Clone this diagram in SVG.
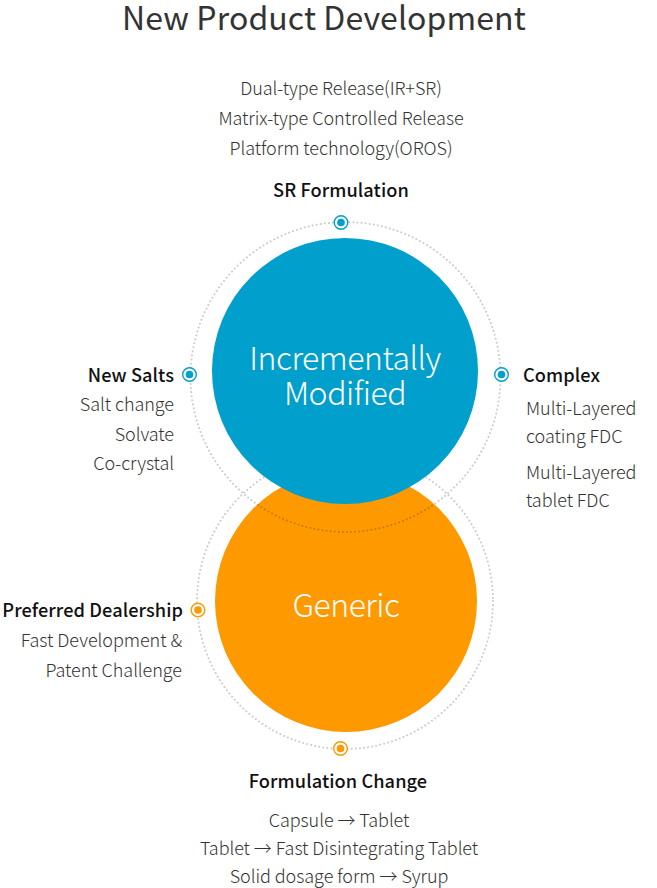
<svg xmlns="http://www.w3.org/2000/svg" width="657" height="888" viewBox="0 0 657 888">
<style>
text{font-family:"Noto Sans CJK KR","Noto Sans",sans-serif;}
.t{font-size:32px;fill:#333;text-anchor:middle;letter-spacing:0.1px;}
.b{font-size:18px;font-weight:300;fill:#333;letter-spacing:-0.05px;}
.h{font-size:18.2px;font-weight:500;fill:#111;letter-spacing:0.08px;}
.c{text-anchor:middle;}
.r{text-anchor:end;}
.big{font-size:32px;font-weight:300;fill:#fff;text-anchor:middle;letter-spacing:-0.5px;}
.dot{fill:none;stroke:#000;stroke-opacity:0.2;stroke-width:2;stroke-dasharray:0.1 4;stroke-linecap:round;}
.mb circle.o{fill:#fff;stroke:#019fcc;stroke-width:1.4;}
.mb circle.i{fill:#019fcc;}
.mo circle.o{fill:#fff;stroke:#fe9900;stroke-width:1.4;}
.mo circle.i{fill:#fe9900;}
</style>
<text class="t" x="324" y="30">New Product Development</text>
<g id="generic">
<circle cx="346" cy="601" r="131" fill="#fe9900"/>
<text class="big" x="346" y="617">Generic</text>
</g>
<g id="connectors">
<circle class="dot" cx="345.5" cy="377" r="155"/>
<circle class="dot" cx="345" cy="601" r="148"/>
</g>
<g id="incrementally">
<circle cx="345" cy="371" r="133" fill="#019fcc"/>
<text class="big" x="345" y="370">Incrementally</text>
<text class="big" x="345" y="405">Modified</text>
</g>
<g id="sr">
<g class="mb"><circle class="o" cx="341" cy="222.5" r="6.8"/><circle class="i" cx="341" cy="222.5" r="3.8"/></g>
<text class="b c" x="341" y="95">Dual-type Release(IR+SR)</text>
<text class="b c" x="341" y="125">Matrix-type Controlled Release</text>
<text class="b c" x="341" y="155">Platform technology(OROS)</text>
<text class="h c" x="341" y="197">SR Formulation</text>
</g>
<g id="newsalts">
<g class="mb"><circle class="o" cx="189.5" cy="374.5" r="6.8"/><circle class="i" cx="189.5" cy="374.5" r="3.8"/></g>
<text class="h r" x="174" y="382">New Salts</text>
<text class="b r" x="174" y="411">Salt change</text>
<text class="b r" x="174" y="441">Solvate</text>
<text class="b r" x="174" y="470">Co-crystal</text>
</g>
<g id="complex">
<g class="mb"><circle class="o" cx="501.5" cy="374.5" r="6.8"/><circle class="i" cx="501.5" cy="374.5" r="3.8"/></g>
<text class="h" x="523" y="382">Complex</text>
<text class="b" x="526" y="415">Multi-Layered</text>
<text class="b" x="526" y="443">coating FDC</text>
<text class="b" x="526" y="479">Multi-Layered</text>
<text class="b" x="526" y="507">tablet FDC</text>
</g>
<g id="preferred">
<g class="mo"><circle class="o" cx="198" cy="610" r="6.8"/><circle class="i" cx="198" cy="610" r="3.8"/></g>
<text class="h r" x="183" y="617">Preferred Dealership</text>
<text class="b r" x="182" y="647">Fast Development &amp;</text>
<text class="b r" x="182" y="677">Patent Challenge</text>
</g>
<g id="formulation">
<g class="mo"><circle class="o" cx="340.5" cy="748.5" r="6.8"/><circle class="i" cx="340.5" cy="748.5" r="3.8"/></g>
<text class="h c" x="338" y="788">Formulation Change</text>
<text class="b c" x="339" y="827">Capsule → Tablet</text>
<text class="b c" x="339" y="855">Tablet → Fast Disintegrating Tablet</text>
<text class="b c" x="339" y="883">Solid dosage form → Syrup</text>
</g>
</svg>
